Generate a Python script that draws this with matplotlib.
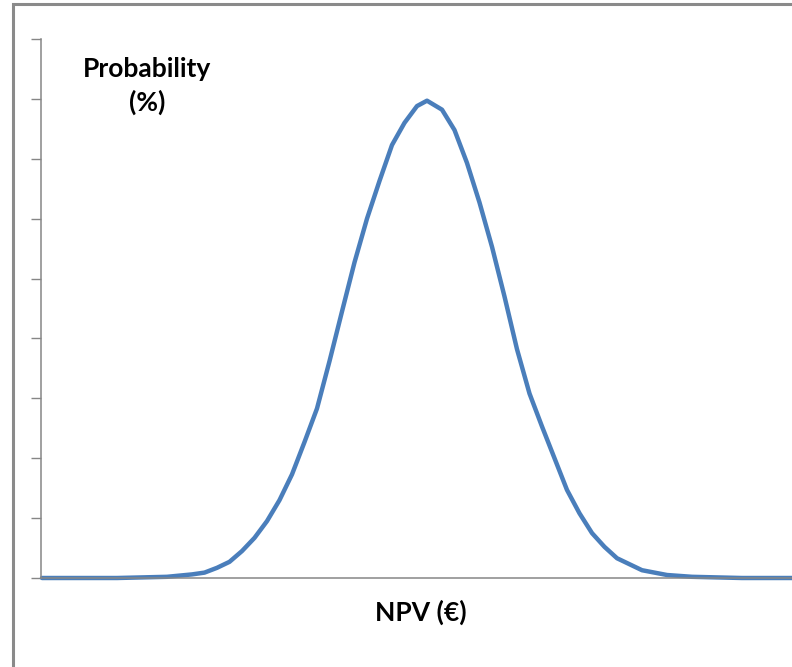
import matplotlib
matplotlib.use("Agg")
import matplotlib.pyplot as plt
from matplotlib.patches import Rectangle

# NPV scenarios (arbitrary units, no tick labels in the original) and probability
npv = [0, 1, 2, 3, 4, 5, 6, 6.5, 7, 7.5, 8, 8.5, 9, 9.5, 10, 10.5, 11, 11.5,
       12, 12.5, 13, 13.5, 14, 14.5, 15, 15.4, 16, 16.5, 17, 17.5, 18, 18.5,
       19, 19.5, 20, 20.5, 21, 21.5, 22, 22.5, 23, 23.5, 24, 25, 26, 27, 28,
       29, 30]
prob = [0.0, 0.0, 0.0, 0.0, 0.01, 0.02, 0.06, 0.09, 0.17, 0.27, 0.45, 0.67,
        0.95, 1.3, 1.73, 2.27, 2.83, 3.62, 4.45, 5.27, 6.0, 6.63, 7.23, 7.6,
        7.88, 7.97, 7.82, 7.48, 6.93, 6.27, 5.53, 4.7, 3.82, 3.08, 2.53, 2.0,
        1.47, 1.08, 0.75, 0.52, 0.33, 0.23, 0.13, 0.05, 0.02, 0.01, 0.0, 0.0,
        0.0]
y_ticks = list(range(10))

x_label = "NPV (€)"
y_label = "Probability\n(%)"

W, H = 792, 667
fig = plt.figure(figsize=(W / 100, H / 100), dpi=100)
fig.patch.set_facecolor("white")

# chart area border (right and bottom edges fall outside the picture)
fig.add_artist(Rectangle((13 / W, -0.2), 2.0, (H - 4) / H + 0.2,
                         transform=fig.transFigure, fill=False,
                         ec="#8a8a8a", lw=2.2))

ax = fig.add_axes([41 / W, (H - 578) / H, 1 - 41 / W, (578 - 39) / H])
ax.plot(npv, prob, color="#4A7EBB", lw=3.2, solid_joinstyle="round",
        solid_capstyle="round", clip_on=False)

ax.set_xlim(-0.04, 30)
ax.set_ylim(0, 9)
ax.set_yticks(y_ticks)
ax.set_yticklabels([])
ax.set_xticks([])
ax.tick_params(axis="y", direction="out", length=7, width=1, color="#868686")

for side in ("top", "right"):
    ax.spines[side].set_visible(False)
for side in ("left", "bottom"):
    ax.spines[side].set_color("#868686")
    ax.spines[side].set_linewidth(1.1)

fig.text(147 / W, 1 - 86 / H, y_label, ha="center", va="center",
         fontsize=19, fontweight="bold", family="Lato", linespacing=1.45)
fig.text(421 / W, 1 - 612 / H, x_label, ha="center", va="center",
         fontsize=19, fontweight="bold", family="Lato")

fig.savefig("out.png", dpi=100, facecolor="white")
